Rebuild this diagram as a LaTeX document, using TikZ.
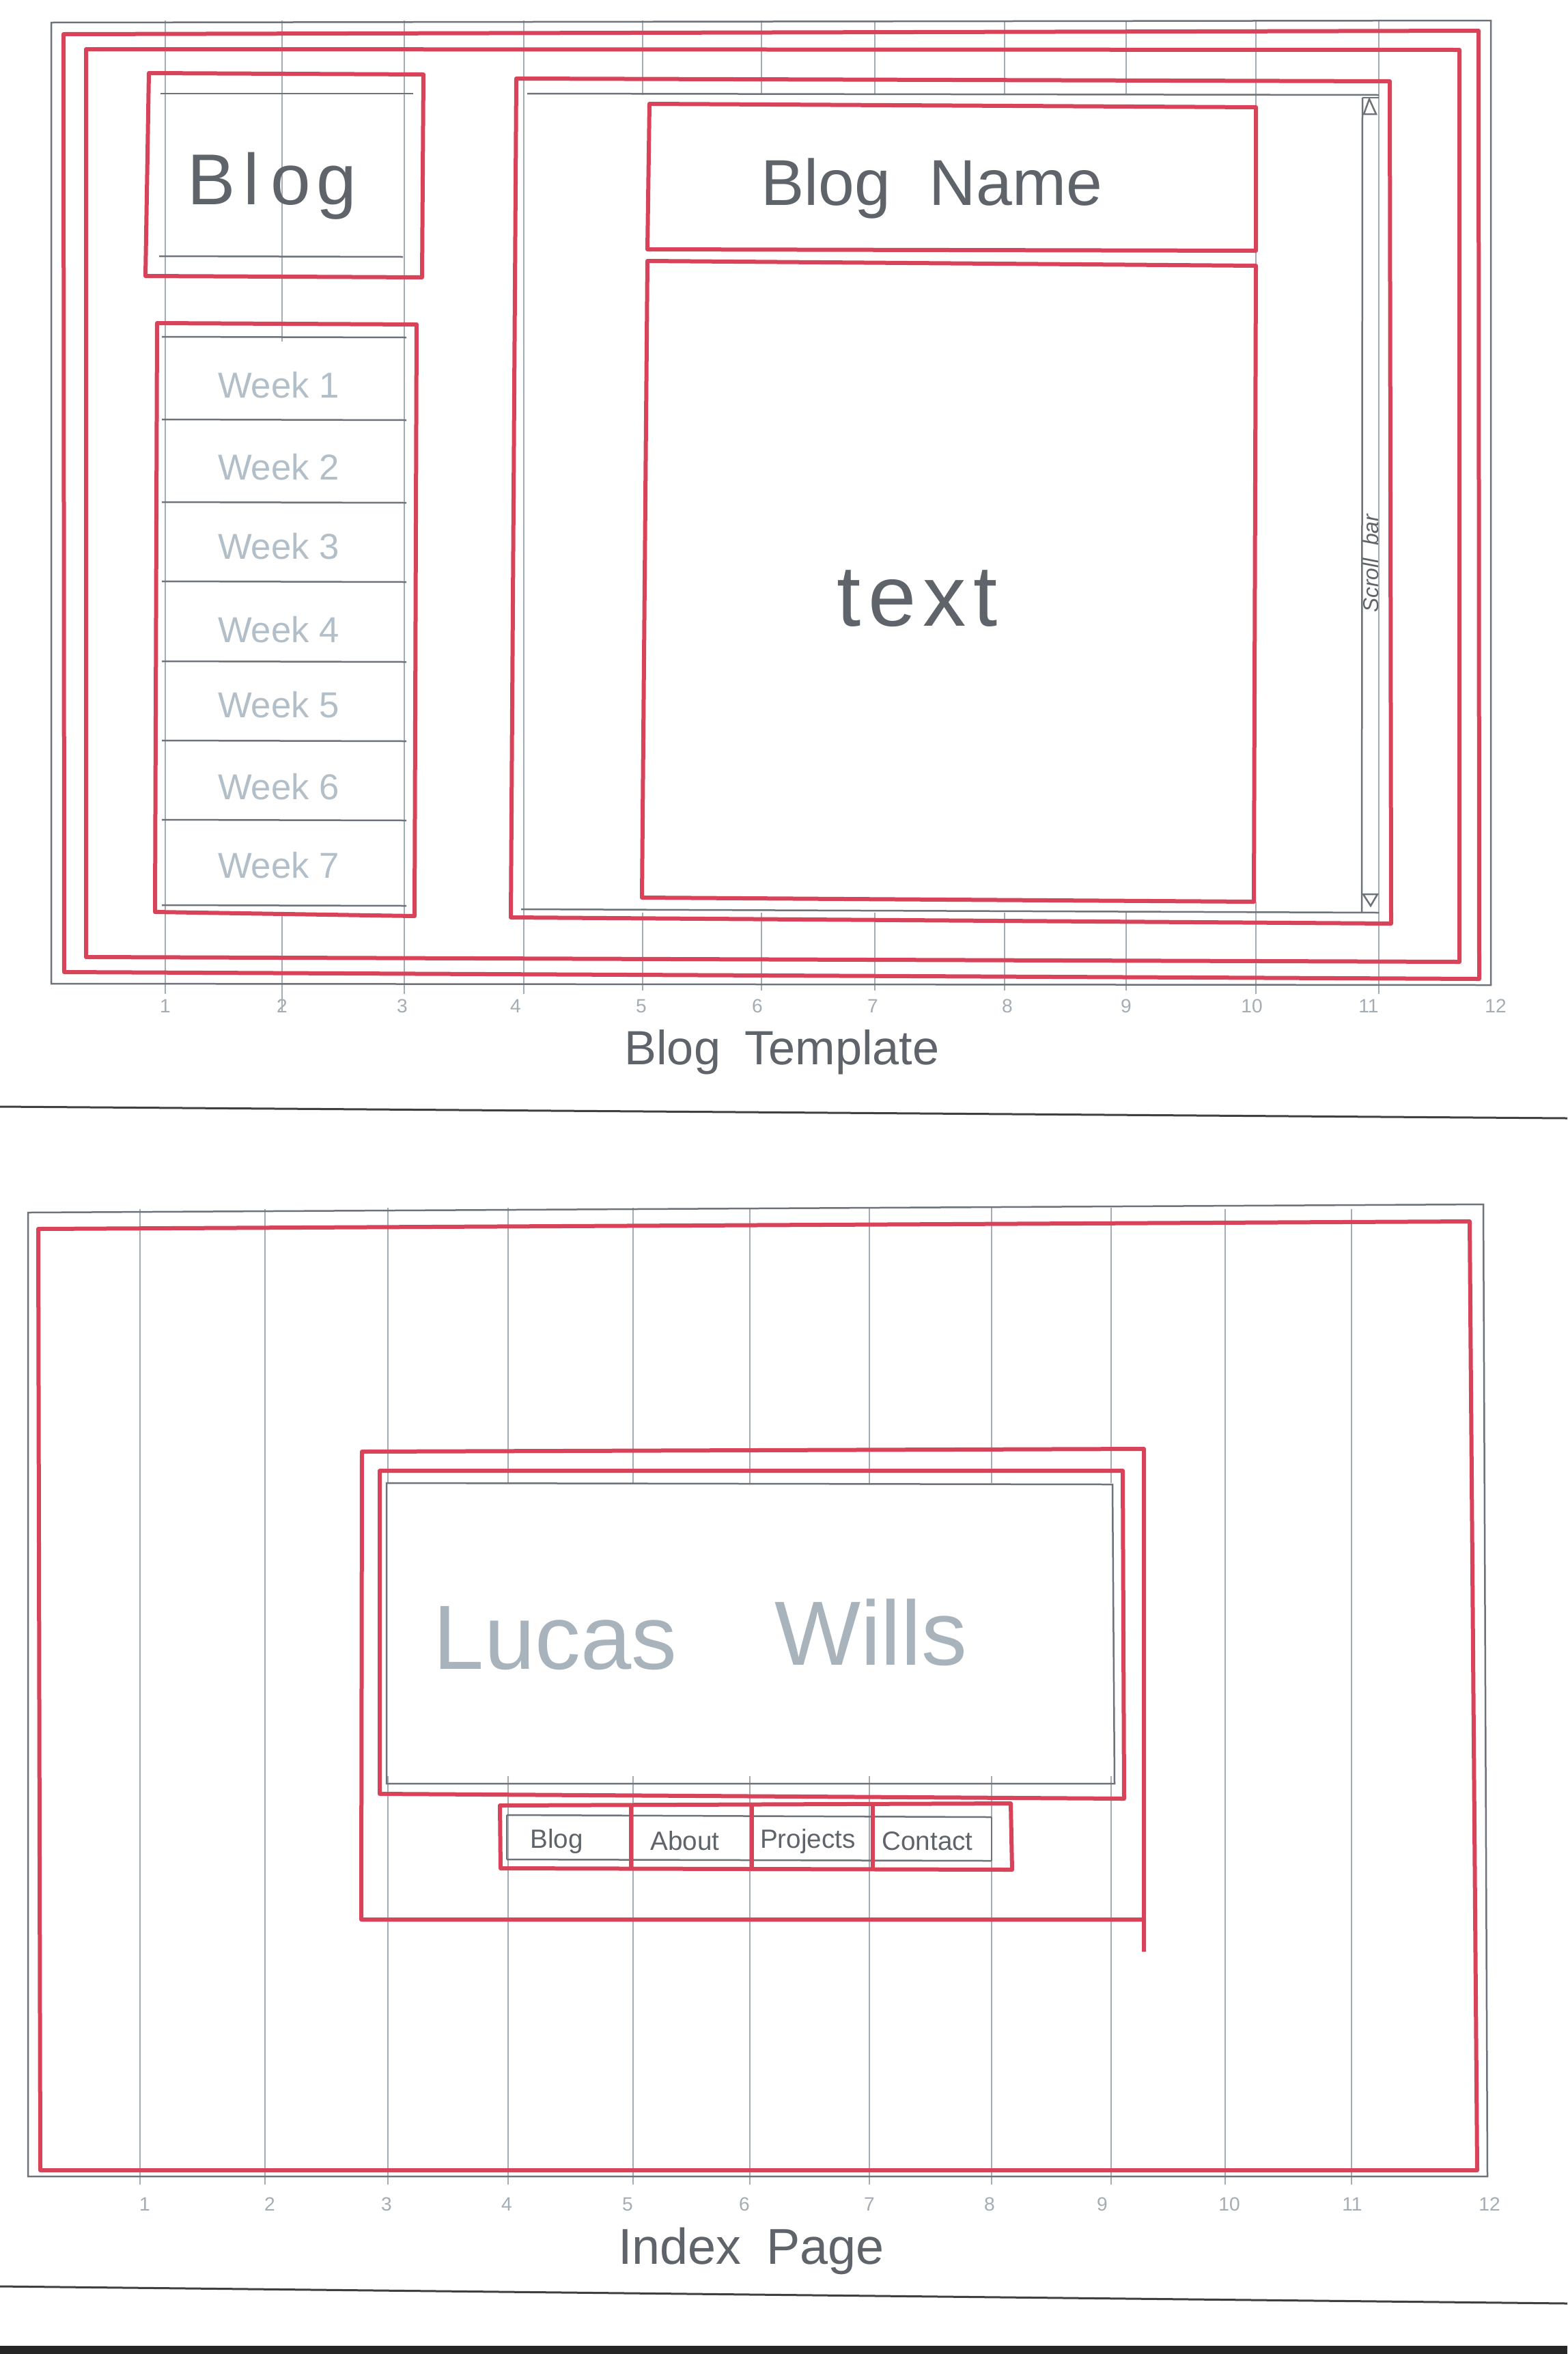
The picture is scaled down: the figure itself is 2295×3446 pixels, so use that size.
\documentclass[tikz,border=0pt]{standalone}
\usepackage{fontspec}
\setmainfont{Liberation Sans}
\definecolor{redpen}{HTML}{D8435A}
\definecolor{pencil}{HTML}{6E737A}
\definecolor{gridc}{HTML}{A4ACB4}
\definecolor{handc}{HTML}{5F646B}
\definecolor{faint}{HTML}{B3BFC8}
\definecolor{herotext}{HTML}{A9B3BC}
\begin{document}
\begin{tikzpicture}[x=0.1mm,y=-0.1mm,
  redbox/.style={draw=redpen,line width=0.6mm,line join=round},
  pencilline/.style={draw=pencil,line width=0.25mm},
  gridline/.style={draw=gridc,line width=0.15mm},
  handtext/.style={text=handc,inner sep=0pt},
  weektext/.style={text=faint,inner sep=0pt,font=\fontsize{15}{17}\selectfont},
  navtext/.style={text=handc,inner sep=0pt,font=\fontsize{11}{13}\selectfont},
  numlabel/.style={text=gridc,inner sep=0pt,font=\fontsize{8}{9}\selectfont}]
\useasboundingbox (0,0) rectangle (2295,3446);
\fill[white] (0,0) rectangle (2295,3446);

% ================= BLOG TEMPLATE =================
% grid lines
\foreach \gx in {941,1115,1281,1471,1649}{
  \draw[gridline] (\gx,30) -- (\gx,139);
  \draw[gridline] (\gx,1336) -- (\gx,1450);
}
\draw[gridline] (242,30) -- (242,1455);
\draw[gridline] (413,30) -- (413,500);
\draw[gridline] (413,1335) -- (413,1480);
\draw[gridline] (592,30) -- (592,1455);
\draw[gridline] (767,30) -- (767,1455);
\draw[gridline] (1839,30) -- (1839,389);
\draw[gridline] (1839,1320) -- (1839,1455);
\draw[gridline] (2019,30) -- (2019,1455);

% gray outer frame
\draw[pencilline] (75,33) -- (2183,30) -- (2183,1442) -- (75,1440) -- cycle;
% red frames
\draw[redbox] (93,50) -- (2165,45) -- (2166,1433) -- (94,1423) -- cycle;
\draw[redbox] (126,72) -- (2137,73) -- (2137,1408) -- (126,1401) -- cycle;

% Blog logo box
\draw[redbox] (218,107) -- (620,109) -- (618,406) -- (213,404) -- cycle;
\draw[pencilline] (235,137) -- (605,137);
\draw[pencilline] (233,375) -- (590,376);
\node[handtext,font=\fontsize{30}{32}\selectfont] (blog) at (398,272) {B\hspace{0.12em}l\hspace{0.15em}o\hspace{0.08em}g};

% Week menu
\draw[redbox] (230,473) -- (610,475) -- (607,1341) -- (227,1335) -- cycle;
\foreach \wy in {493,614,735,851,968,1084,1200,1325}{
  \draw[pencilline] (237,\wy) -- (595,\wy+1);
}
\node[weektext] (w1) at (408,564) {Week 1};
\node[weektext] (w2) at (408,684) {Week 2};
\node[weektext] (w3) at (408,800) {Week 3};
\node[weektext] (w4) at (408,922) {Week 4};
\node[weektext] (w5) at (408,1032) {Week 5};
\node[weektext] (w6) at (408,1152) {Week 6};
\node[weektext] (w7) at (408,1267) {Week 7};

% Content area
\draw[redbox] (756,115) -- (2035,119) -- (2037,1352) -- (748,1343) -- cycle;
\draw[pencilline] (772,137) -- (2019,139);
\draw[pencilline] (763,1331) -- (2019,1336);
% Blog name box
\draw[redbox] (951,152) -- (1839,157) -- (1839,367) -- (948,365) -- cycle;
\node[handtext,font=\fontsize{27}{30}\selectfont] (blogname) at (1364,276) {Blog\hspace{0.6em}Name};
% Text box
\draw[redbox] (948,382) -- (1839,389) -- (1836,1320) -- (940,1314) -- cycle;
\node[handtext,font=\fontsize{36}{40}\selectfont] (txt) at (1343,876) {t\hspace{0.08em}e\hspace{0.08em}x\hspace{0.08em}t};
% Scroll bar
\draw[pencilline] (1995,143) -- (2019,143);
\draw[pencilline] (1995,143) -- (1994,1336);
\draw[pencilline] (1997,167) -- (2015,167) -- (2005,145) -- cycle;
\draw[pencilline] (1996,1309) -- (2017,1309) -- (2007,1326) -- cycle;
\node[handtext,rotate=90,font=\fontsize{9}{10}\selectfont\itshape] (scroll) at (2007,825) {Scroll\hspace{0.6em}bar};

% column labels
\foreach \lx/\lt in {242/1,413/2,589/3,755/4,939/5,1109/6,1278/7,1475/8,1649/9,1833/10,2004/11,2190/12}{
  \node[numlabel] at (\lx,1473) {\lt};
}
\node[handtext,font=\fontsize{20}{22}\selectfont] (tpl) at (1145,1540) {Blog\hspace{0.5em}Template};

% separator
\draw[draw=black!75,line width=0.3mm] (0,1620) -- (2295,1637);

% ================= INDEX PAGE =================
\foreach \gx in {205,388,1794,1979}{
  \draw[gridline] (\gx,1770) -- (\gx,3198);
}
\foreach \gx in {568,744,927,1098,1273,1452,1627}{
  \draw[gridline] (\gx,1768) -- (\gx,2171);
  \draw[gridline] (\gx,2600) -- (\gx,3198);
}
% gray frame
\draw[pencilline] (41,1775) -- (2172,1763) -- (2178,3186) -- (41,3186) -- cycle;
% red outer
\draw[redbox] (56,1799) -- (2152,1788) -- (2163,3177) -- (59,3177) -- cycle;

% hero box
\draw[redbox] (1675,2857) -- (1675,2121) -- (530,2125) -- (529,2810) -- (1672,2810);
\draw[redbox] (556,2153) -- (1644,2153) -- (1646,2633) -- (556,2626) -- cycle;
\draw[pencilline] (566,2171) -- (1629,2173) -- (1632,2611) -- (566,2611) -- cycle;
\node[text=herotext,inner sep=0pt,font=\fontsize{38}{42}\selectfont] (lucas) at (813,2398) {Lucas};
\node[text=herotext,inner sep=0pt,font=\fontsize{38}{42}\selectfont] (wills) at (1275,2390) {Wills};

% nav
\draw[redbox] (732,2643) -- (1480,2640) -- (1482,2737) -- (733,2735) -- cycle;
\draw[pencilline] (742,2657) -- (1452,2660);
\draw[pencilline] (742,2722) -- (1452,2724);
\draw[pencilline] (742,2657) -- (742,2722);
\draw[pencilline] (1452,2660) -- (1452,2724);
\foreach \nx in {924,1101,1278}{
  \draw[redbox] (\nx,2643) -- (\nx,2737);
}
\node[navtext] (nblog) at (815,2695) {Blog};
\node[navtext] (nabout) at (1003,2695) {About};
\node[navtext] (nproj) at (1183,2695) {Projects};
\node[navtext] (ncont) at (1358,2695) {Contact};

% column labels
\foreach \lx/\lt in {212/1,395/2,566/3,742/4,919/5,1090/6,1273/7,1449/8,1614/9,1800/10,1980/11,2181/12}{
  \node[numlabel] at (\lx,3227) {\lt};
}
\node[handtext,font=\fontsize{21}{24}\selectfont] (idx) at (1100,3295) {Index\hspace{0.5em}Page};

% separator
\draw[draw=black!75,line width=0.3mm] (0,3347) -- (2295,3372);
% scanner edge
\fill[black!85] (0,3434) rectangle (2295,3446);
\end{tikzpicture}
\end{document}
